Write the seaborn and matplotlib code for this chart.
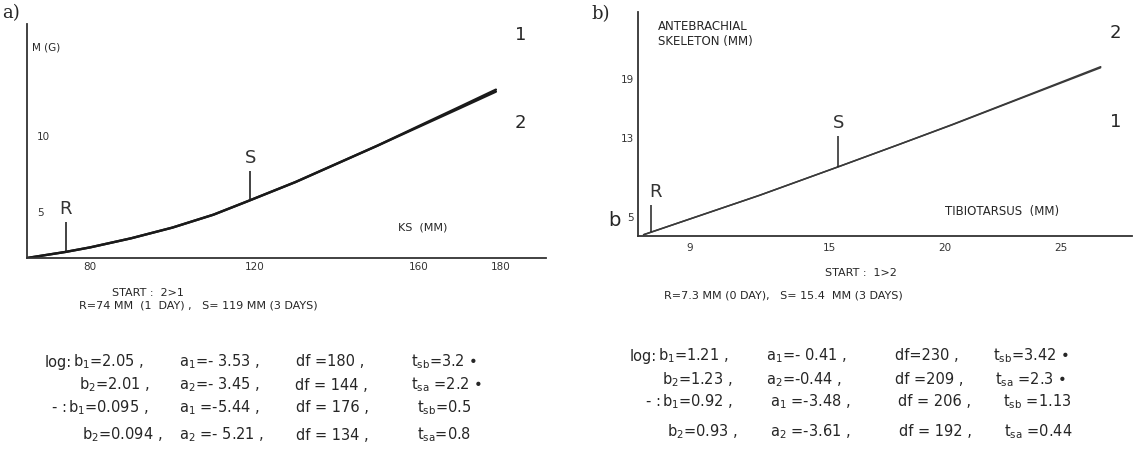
import numpy as np
import pandas as pd
import matplotlib
matplotlib.use("Agg")
import matplotlib.pyplot as plt
import seaborn as sns

# panel a: body mass M (g) against KS (mm), lines 1 and 2
ks_mm = [64.6, 74, 80, 90, 100, 110, 118, 130, 140, 150, 160, 170, 178.8]
mass_1 = [2.0, 2.4, 2.7, 3.3, 4.0, 4.85, 5.7, 7.0, 8.2, 9.4, 10.68, 11.95, 13.08]
mass_2 = [2.0, 2.4, 2.7, 3.3, 4.0, 4.85, 5.7, 7.0, 8.2, 9.4, 10.63, 11.86, 12.95]
a_xticks = [80, 100, 120, 140, 160, 180]
a_xlabels = ["80", "", "120", "", "160", "180"]
a_yticks = [3, 4, 5, 6, 7, 8, 9, 10, 11]
a_ylabels = ["", "", "5", "", "", "", "", "10", ""]
a_marks = ["R", "S"]
a_marks_x = [74, 119]
a_marks_top = [4.37, 7.73]

# panel b: antebrachial skeleton (mm) against tibiotarsus (mm)
tibio_mm = [7.0, 10, 12, 15.4, 18, 20.3, 23, 26.7]
ante_1 = [3.2, 5.6, 7.2, 10.1, 12.35, 14.35, 16.8, 20.15]
ante_2 = [3.2, 5.6, 7.2, 10.1, 12.35, 14.38, 16.85, 20.25]
b_xticks = list(range(7, 28))
b_xlabels = [str(v) if v in (9, 15, 20, 25) else "" for v in b_xticks]
b_yticks = [5, 7, 9, 11, 13, 15, 17, 19]
b_ylabels = ["5", "", "", "", "13", "", "", "19"]
b_marks = ["R", "S"]
b_marks_x = [7.3, 15.4]
b_marks_top = [6.2, 13.2]

# regression tables under the panels
stats_a = [
    ["b$_1$=2.05 ,", "a$_1$=- 3.53 ,", "df =180 ,", r"t$_\mathrm{sb}$=3.2 •"],
    ["b$_2$=2.01 ,", "a$_2$=- 3.45 ,", "df = 144 ,", r"t$_\mathrm{sa}$ =2.2 •"],
    ["b$_1$=0.095 ,", "a$_1$ =-5.44 ,", "df = 176 ,", r"t$_\mathrm{sb}$=0.5"],
    ["b$_2$=0.094 ,", "a$_2$ =- 5.21 ,", "df = 134 ,", r"t$_\mathrm{sa}$=0.8"],
]
stats_b = [
    ["b$_1$=1.21 ,", "a$_1$=- 0.41 ,", "df=230 ,", r"t$_\mathrm{sb}$=3.42 •"],
    ["b$_2$=1.23 ,", "a$_2$=-0.44 ,", "df =209 ,", r"t$_\mathrm{sa}$ =2.3 •"],
    ["b$_1$=0.92 ,", "a$_1$ =-3.48 ,", "df = 206 ,", r"t$_\mathrm{sb}$ =1.13"],
    ["b$_2$=0.93 ,", "a$_2$ =-3.61 ,", "df = 192 ,", r"t$_\mathrm{sa}$ =0.44"],
]
row_prefix = ["log:", "", "- :", ""]

W, H = 1140, 459
INK = "#262626"

sns.set_style("white")
plt.rcParams["font.family"] = ["DejaVu Sans"]
plt.rcParams["text.color"] = INK
plt.rcParams["mathtext.default"] = "regular"

fig = plt.figure(figsize=(W / 100, H / 100), dpi=100)


def box(l, t, r, b):
    return [l / W, 1 - b / H, (r - l) / W, (b - t) / H]


def ftext(x, y, s, **kw):
    kw.setdefault("va", "center")
    kw.setdefault("color", INK)
    fig.text(x / W, 1 - y / H, s, **kw)


def long_df(x, y1, y2):
    n = len(x)
    return pd.DataFrame({"x": list(x) * 2, "y": list(y1) + list(y2),
                         "line": ["1"] * n + ["2"] * n})


def style_axes(ax):
    sns.despine(ax=ax)
    for sp in ("left", "bottom"):
        ax.spines[sp].set_linewidth(1.3)
        ax.spines[sp].set_color("#333333")
    ax.set_xlabel("")
    ax.set_ylabel("")
    ax.set_facecolor("none")


# ---- panel a
ax_a = fig.add_axes(box(27, 24, 546, 258))
sns.lineplot(data=long_df(ks_mm, mass_1, mass_2), x="x", y="y", hue="line",
             palette=["#1a1a1a", "#1a1a1a"], lw=1.7, legend=False, sort=False,
             ax=ax_a)
ax_a.set_xlim(64.6, 191)
ax_a.set_ylim(2, 17.4)
style_axes(ax_a)
ax_a.set_xticks(a_xticks, a_xlabels)
ax_a.set_yticks(a_yticks, a_ylabels)
ax_a.tick_params(axis="x", direction="in", length=7, width=1, pad=3,
                 labelsize=7.5, colors="#333333")
ax_a.tick_params(axis="y", direction="in", length=7, width=1, pad=-7,
                 labelsize=7.5, colors="#333333")
for lbl in ax_a.get_yticklabels():
    lbl.set_horizontalalignment("left")
for name, x, top in zip(a_marks, a_marks_x, a_marks_top):
    y0 = np.interp(x, ks_mm, mass_1)
    ax_a.vlines(x, y0, top, color="#222222", lw=1.2)
    ax_a.annotate(name, (x, top), xytext=(0, 3), textcoords="offset points",
                  ha="center", va="bottom", fontsize=13, color="#333333")

# ---- panel b
ax_b = fig.add_axes(box(638, 12, 1132, 236))
sns.lineplot(data=long_df(tibio_mm, ante_1, ante_2), x="x", y="y", hue="line",
             palette=["#3a3a3a", "#3a3a3a"], lw=1.1, legend=False, sort=False,
             ax=ax_b)
ax_b.set_xlim(6.76, 28.05)
ax_b.set_ylim(3.07, 25.8)
style_axes(ax_b)
ax_b.set_xticks(b_xticks, b_xlabels)
ax_b.set_yticks(b_yticks, b_ylabels)
ax_b.tick_params(axis="x", direction="in", length=6, width=1, pad=5,
                 labelsize=7.5, colors="#333333")
ax_b.tick_params(axis="y", direction="in", length=7, width=1, pad=3,
                 labelsize=7.5, colors="#333333")
for name, x, top in zip(b_marks, b_marks_x, b_marks_top):
    y0 = np.interp(x, tibio_mm, ante_1) if x >= tibio_mm[0] else ax_b.get_ylim()[0]
    ax_b.vlines(x, y0, top, color="#222222", lw=1.1)
    ax_b.annotate(name, (x, top), xytext=(0 if name == "S" else -1, 3),
                  textcoords="offset points",
                  ha="center" if name == "S" else "left", va="bottom",
                  fontsize=13, color="#333333")

# ---- panel letters, axis titles, line numbers
ftext(2, 13, "a)", fontsize=13, family="DejaVu Serif")
ftext(591, 14, "b)", fontsize=13, family="DejaVu Serif")
ftext(32, 47, "M (G)", fontsize=7.5)
ftext(398, 227, "KS  (MM)", fontsize=8)
ftext(658, 26, "ANTEBRACHIAL", fontsize=8.5)
ftext(658, 41, "SKELETON (MM)", fontsize=8.5)
ftext(945, 211, "TIBIOTARSUS  (MM)", fontsize=8.5)
ftext(608, 221, "b", fontsize=14)
ftext(515, 35, "1", fontsize=13)
ftext(515, 123, "2", fontsize=13)
ftext(1110, 33, "2", fontsize=13)
ftext(1110, 122, "1", fontsize=13)

# ---- start lines
ftext(112, 293, "START :  2>1", fontsize=8)
ftext(79, 306, "R=74 MM  (1  DAY) ,   S= 119 MM (3 DAYS)", fontsize=8)
ftext(825, 273, "START :  1>2", fontsize=8)
ftext(664, 295, "R=7.3 MM (0 DAY),   S= 15.4  MM (3 DAYS)", fontsize=8)

# ---- regression tables
rows_a_y = [362, 385, 408, 435]
rows_b_y = [356, 380, 402, 432]
cols_a = [[73, 179, 296, 411], [79, 179, 295, 411],
          [68, 179, 296, 417], [82, 179, 296, 417]]
cols_b = [[658, 766, 895, 993], [662, 766, 895, 995],
          [662, 770, 898, 1003], [667, 770, 899, 1004]]

for stats, rows_y, cols in ((stats_a, rows_a_y, cols_a),
                            (stats_b, rows_b_y, cols_b)):
    for i, row in enumerate(stats):
        if row_prefix[i]:
            ftext(cols[i][0] - 1, rows_y[i], row_prefix[i], fontsize=10.5,
                  ha="right")
        for x, s in zip(cols[i], row):
            ftext(x, rows_y[i], s, fontsize=10.5)

fig.savefig("out.png", dpi=100, facecolor="white")
